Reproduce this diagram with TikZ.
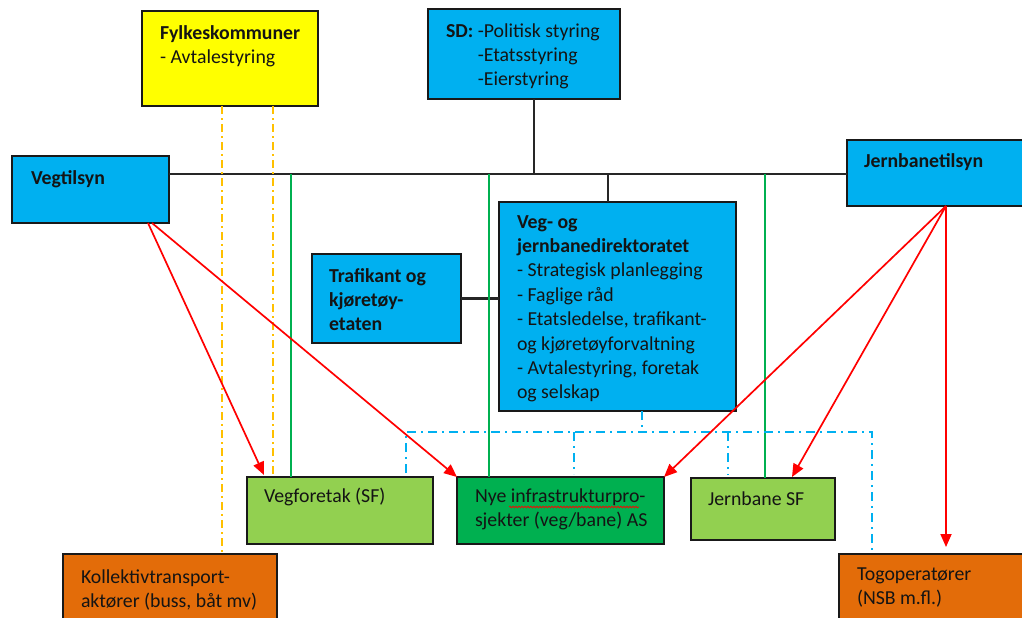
\documentclass[tikz,border=0pt]{standalone}
\usepackage{fontspec}
\setmainfont{Carlito}
\usetikzlibrary{calc,arrows.meta,decorations.pathmorphing}
\definecolor{cblue}{HTML}{00B0F0}
\definecolor{cyellow}{HTML}{FFFF00}
\definecolor{lgreen}{HTML}{92D050}
\definecolor{dgreen}{HTML}{00B050}
\definecolor{corange}{HTML}{E36C09}
\definecolor{cgold}{HTML}{FFC000}
\definecolor{cred}{HTML}{FF0000}
\tikzset{
  box/.style={draw=black!90, line width=1.8pt, rectangle, inner sep=0pt, outer sep=0pt, anchor=north west},
  txt/.style={anchor=north west, inner sep=0pt, outer sep=0pt, align=left, font=\fontsize{19.8}{24.4}\selectfont, text=black!92},
  bus/.style={draw=black!85, line width=2.4pt},
  gline/.style={draw=dgreen, line width=1.8pt},
  odash/.style={draw=cgold, line width=2pt, dash pattern=on 8pt off 4pt on 2pt off 4pt},
  bdash/.style={draw=cblue, line width=2pt, dash pattern=on 9pt off 5pt on 2pt off 5pt},
  rarrow/.style={draw=cred, line width=1.7pt, -{Triangle[length=13pt,width=11pt]}},
}
\begin{document}
\begin{tikzpicture}[x=1pt,y=-1pt]
\useasboundingbox (0,0) rectangle (1022,618);
\clip (0,0) rectangle (1022,618);
\fill[white] (0,0) rectangle (1022,618);

% boxes
\node[box, fill=cyellow, minimum width=176pt, minimum height=95pt] (fk) at (142,11) {};
\node[box, fill=cblue, minimum width=192pt, minimum height=90pt] (sd) at (428,9) {};
\node[box, fill=cblue, minimum width=157pt, minimum height=67pt] (veg) at (12,156) {};
\node[box, fill=cblue, minimum width=190pt, minimum height=66pt] (jt) at (847,140) {};
\node[box, fill=cblue, minimum width=149pt, minimum height=89pt] (tk) at (312,254) {};
\node[box, fill=cblue, minimum width=237pt, minimum height=209pt] (vjd) at (499,202) {};
\node[box, fill=lgreen, minimum width=186pt, minimum height=67pt] (vf) at (247,477) {};
\node[box, fill=dgreen, minimum width=207pt, minimum height=67pt] (nye) at (457,477) {};
\node[box, fill=lgreen, minimum width=144pt, minimum height=62pt] (jsf) at (691,478) {};
\node[box, fill=corange, minimum width=195pt, minimum height=80pt] (tog) at (839,554) {};
\node[box, fill=corange, minimum width=214pt, minimum height=80pt] (kol) at (63,554) {};

% texts
\node[txt] (fkt) at (160,22) {\strut\textbf{Fylkeskommuner}\\- Avtalestyring};
\node[txt] (sdt) at (446,20) {\strut\textbf{SD:} -Politisk styring\\\hphantom{\textbf{SD:} }-Etatsstyring\\\hphantom{\textbf{SD:} }-Eierstyring};
\node[txt] (vegt) at (31,167) {\strut\textbf{Vegtilsyn}};
\node[txt] (jtt) at (864,150) {\strut\textbf{Jernbanetilsyn}};
\node[txt] (tkt) at (329,265) {\strut\textbf{Trafikant og}\\\textbf{kjøretøy-}\\\textbf{etaten}};
\node[txt] (vjdt) at (517,211) {\strut\textbf{Veg- og}\\\textbf{jernbanedirektoratet}\\- Strategisk planlegging\\- Faglige råd\\- Etatsledelse, trafikant-\\og kjøretøyforvaltning\\- Avtalestyring, foretak\\og selskap};
\node[txt] (vft) at (264,485) {\strut Vegforetak (SF)};
\node[txt] (nyet) at (475,485) {\strut Nye infrastrukturpro-\\sjekter (veg/bane) AS};
\node[txt] (jsft) at (708,488) {\strut Jernbane SF};
\node[txt] (togt) at (857,563) {\strut Togoperatører\\(NSB m.fl.)};
\node[txt] (kolt) at (81,566) {\strut Kollektivtransport-\\aktører (buss, båt mv)};

% spell-check squiggle
\coordinate (sq1) at (509,507);
\coordinate (sq2) at (639,507);
\draw[cred, line width=0.7pt, decorate, decoration={snake, amplitude=0.9pt, segment length=3pt}] (sq1) -- (sq2);

% black structure lines
\coordinate (busy) at (0,174);
\coordinate (vegbus) at (veg.east |- busy);
\coordinate (jtbus) at (jt.west |- busy);
\draw[bus] (vegbus) -- (jtbus);
\coordinate (sdpt) at ($(sd.south west)+(106,0)$);
\draw[bus] (sdpt) -- (sdpt |- busy);
\coordinate (vjdpt) at ($(vjd.north west)+(109,0)$);
\draw[bus] (vjdpt) -- (vjdpt |- busy);
\draw[bus] (tk.east) -- (vjd.west |- tk.east);

% green lines
\coordinate (g1) at ($(vf.north west)+(44,0)$);
\coordinate (g2) at ($(nye.north west)+(32,0)$);
\coordinate (g3) at ($(jsf.north west)+(74,0)$);
\draw[gline] (g1 |- busy) -- (g1);
\draw[gline] (g2 |- busy) -- (g2);
\draw[gline] (g3 |- busy) -- (g3);

% orange dash-dot
\coordinate (o1) at ($(fk.south west)+(80,0)$);
\coordinate (o2) at ($(fk.south west)+(131,0)$);
\draw[odash] (o1) -- (o1 |- kol.north);
\draw[odash] (o2) -- (o2 |- vf.north);

% blue dash-dot
\coordinate (bl) at (0,432);
\coordinate (b0) at ($(vjd.south west)+(143,0)$);
\coordinate (b1) at ($(vf.north west)+(159,-4)$);
\coordinate (b2) at ($(nye.north west)+(117,-3)$);
\coordinate (b3) at ($(jsf.north west)+(37,-3)$);
\coordinate (b4) at ($(tog.north west)+(33,-2)$);
\draw[bdash] (b0) -- (b0 |- bl);
\draw[bdash] (b1) -- (b1 |- bl) -- (b4 |- bl) -- (b4);
\draw[bdash] (b2 |- bl) -- (b2);
\draw[bdash] (b3 |- bl) -- (b3);

% red arrows
\coordinate (rv1) at ($(veg.south west)+(136,0)$);
\coordinate (rv2) at ($(veg.south west)+(140,0)$);
\coordinate (rj) at ($(jt.south west)+(99,0)$);
\draw[rarrow] (rv1) -- ($(vf.north west)+(17,-2)$);
\draw[rarrow] (rv2) -- (nye.north west);
\draw[rarrow] (rj) -- (nye.north east);
\draw[rarrow] (rj) -- ($(jsf.north west)+(101,-1)$);
\draw[rarrow] (rj) -- ($(rj |- tog.north)+(0,-7)$);
\end{tikzpicture}
\end{document}
